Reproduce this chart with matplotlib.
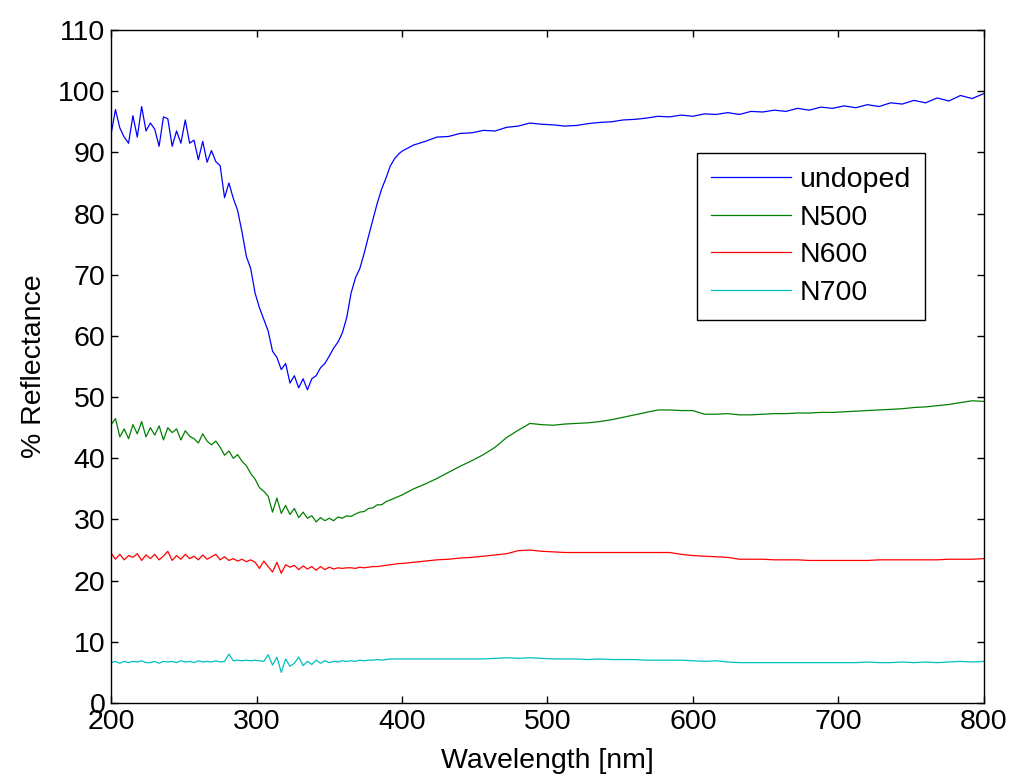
# Reflectance spectra of undoped and N-doped samples
import matplotlib
matplotlib.use('Agg')
from matplotlib import pyplot as plt

# wavelength grids: fine in the noisy UV part, coarser above 400 nm
wl_uv = list(range(200, 400, 3))
wl_vis = list(range(400, 801, 8))

undoped_uv = [93, 97, 94, 92.5, 91.5, 96, 92.5, 97.5, 93.5, 94.8, 93.8, 91, 95.8, 95.5, 91, 93.5,
              91.5, 95.3, 91.5, 92, 88.8, 91.8, 88.4, 90.3, 88.5, 87.8, 82.6, 85, 82.5, 80.5, 77, 73,
              71, 67, 64.6, 62.7, 60.8, 57.5, 56.5, 54.5, 55.5, 52.3, 53.5, 51.5, 53, 51.2, 53, 53.5,
              54.8, 55.5, 56.7, 58, 59, 60.5, 63, 67, 69.5, 71, 73.5, 76.3, 79, 81.7, 84, 85.8, 87.8,
              89, 89.8]
undoped_vis = [90.2, 91.2, 91.8, 92.5, 92.6, 93.1, 93.2, 93.6, 93.5, 94.1, 94.3, 94.8, 94.6, 94.5,
               94.3, 94.4, 94.7, 94.9, 95.0, 95.3, 95.4, 95.6, 95.9, 95.8, 96.1, 95.9, 96.3, 96.2,
               96.5, 96.2, 96.7, 96.6, 96.9, 96.7, 97.2, 96.9, 97.4, 97.2, 97.6, 97.3, 97.8, 97.5,
               98.1, 97.9, 98.5, 98.1, 98.9, 98.4, 99.3, 98.8, 99.6]

n500_uv = [45.5, 46.5, 43.5, 44.8, 43.2, 45.5, 44, 46, 43.5, 45, 43.8, 45.3, 43, 45, 44.2, 44.8,
           43, 44.5, 43.6, 43.2, 42.5, 44, 42.8, 42.2, 42.8, 41.8, 40.5, 41.2, 40, 40.6, 39.5, 38.8,
           37.5, 36.6, 35.2, 34.6, 33.8, 31.2, 33.5, 31, 32.3, 30.8, 31.8, 30.3, 31.2, 30.2, 30.6,
           29.6, 30.3, 29.8, 30.2, 29.8, 30.4, 30.2, 30.6, 30.5, 30.9, 31.2, 31.3, 31.8, 31.9, 32.4,
           32.4, 32.9, 33.2, 33.5, 33.8]
n500_vis = [34.0, 35.0, 35.8, 36.7, 37.7, 38.7, 39.6, 40.6, 41.8, 43.4, 44.6, 45.7, 45.5, 45.4,
            45.6, 45.7, 45.8, 46.0, 46.3, 46.7, 47.1, 47.5, 47.9, 47.9, 47.8, 47.8, 47.2, 47.2,
            47.3, 47.1, 47.1, 47.2, 47.3, 47.3, 47.4, 47.4, 47.5, 47.5, 47.6, 47.7, 47.8, 47.9,
            48.0, 48.1, 48.3, 48.4, 48.6, 48.8, 49.1, 49.4, 49.3]

n600_uv = [24.5, 23.5, 24.3, 23.4, 24.1, 23.8, 24.4, 23.3, 24.2, 23.6, 24.3, 23.4, 24.0, 24.8,
           23.3, 24.1, 23.5, 24.3, 23.6, 24.0, 23.4, 24.2, 23.5, 23.9, 24.3, 23.4, 23.9, 23.3, 23.6,
           23.2, 23.5, 23.1, 23.4, 23.0, 22.0, 23.2, 22.3, 21.4, 23.0, 21.2, 22.6, 22.2, 22.5, 21.8,
           22.4, 21.9, 22.3, 21.7, 22.3, 21.8, 22.2, 21.9, 22.1, 22.0, 22.1, 22.1, 22.0, 22.2, 22.1,
           22.2, 22.3, 22.3, 22.4, 22.5, 22.6, 22.7, 22.8]
n600_vis = [22.8, 23.0, 23.2, 23.4, 23.5, 23.7, 23.8, 24.0, 24.2, 24.4, 24.9, 25.0, 24.8, 24.7,
            24.6, 24.6, 24.6, 24.6, 24.6, 24.6, 24.6, 24.6, 24.6, 24.6, 24.3, 24.1, 24.0, 23.9,
            23.8, 23.5, 23.5, 23.5, 23.4, 23.4, 23.4, 23.3, 23.3, 23.3, 23.3, 23.3, 23.3, 23.4,
            23.4, 23.4, 23.4, 23.4, 23.4, 23.5, 23.5, 23.5, 23.6]

n700_uv = [6.6, 6.8, 6.5, 6.8, 6.6, 6.8, 6.7, 6.9, 6.6, 6.6, 6.8, 6.5, 6.8, 6.7, 6.8, 6.6, 6.9,
           6.7, 6.8, 6.6, 6.9, 6.7, 6.8, 6.7, 6.9, 6.7, 6.8, 8.0, 6.9, 7.0, 6.9, 7.0, 6.9, 7.0, 6.9,
           6.8, 7.9, 6.2, 7.5, 5.0, 7.2, 6.0, 6.5, 7.5, 6.1, 6.8, 6.3, 7.0, 6.5, 6.9, 6.6, 6.8, 6.7,
           6.9, 6.8, 6.9, 6.8, 7.0, 6.9, 7.0, 7.0, 7.1, 7.0, 7.1, 7.2, 7.2, 7.2]
n700_vis = [7.2, 7.2, 7.2, 7.2, 7.2, 7.2, 7.2, 7.2, 7.3, 7.4, 7.3, 7.4, 7.3, 7.2, 7.2, 7.2, 7.1,
            7.2, 7.1, 7.1, 7.1, 7.0, 7.0, 7.0, 7.0, 6.9, 6.8, 6.9, 6.7, 6.6, 6.6, 6.6, 6.6, 6.6,
            6.6, 6.6, 6.6, 6.6, 6.6, 6.6, 6.7, 6.6, 6.6, 6.7, 6.6, 6.7, 6.6, 6.7, 6.8, 6.7, 6.8]

labels = ['undoped', 'N500', 'N600', 'N700']
colors = ['#0000ff', '#008000', '#ff0000', '#00bfbf']

plt.rcParams['font.family'] = 'Liberation Sans'
fs = 20.5

fig = plt.figure(figsize=(10.1, 7.78), dpi=100)
ax = fig.add_axes([0.110, 0.0964, 0.864, 0.865])

wl = wl_uv + wl_vis
series = [undoped_uv + undoped_vis, n500_uv + n500_vis, n600_uv + n600_vis, n700_uv + n700_vis]
for y, c, lab in zip(series, colors, labels):
    ax.plot(wl, y, color=c, lw=0.9, label=lab)

ax.set_xlim(200, 800)
ax.set_ylim(0, 110)
ax.set_xticks(range(200, 801, 100))
ax.set_yticks(range(0, 111, 10))
ax.tick_params(direction='in', length=5, width=1, top=True, right=True, labelsize=fs, pad=4)
for s in ax.spines.values():
    s.set_linewidth(1.0)

ax.set_xlabel('Wavelength [nm]', fontsize=fs, labelpad=10)
ax.set_ylabel('% Reflectance', fontsize=fs, labelpad=8)

leg = ax.legend(loc='upper left', bbox_to_anchor=(0.671, 0.817), fontsize=fs, fancybox=False,
                edgecolor='black', framealpha=1, handlelength=2.8, handletextpad=0.3,
                labelspacing=0.4, borderpad=0.5, borderaxespad=0)
leg.get_frame().set_linewidth(1.0)

fig.savefig('out.png', dpi=100)
